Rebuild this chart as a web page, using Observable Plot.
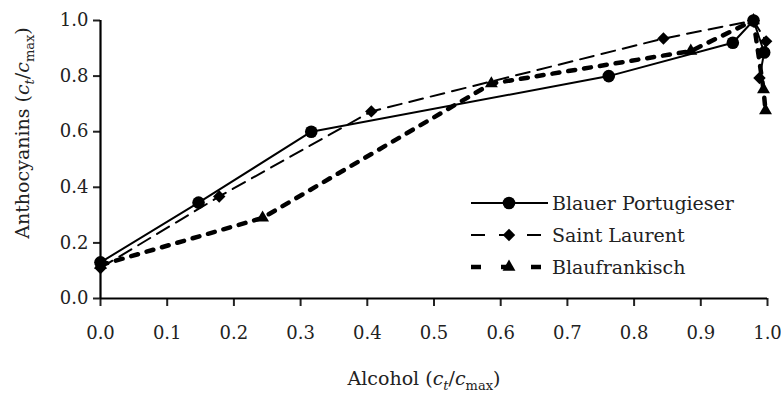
<!DOCTYPE html>
<html>
<head>
<meta charset="utf-8">
<script src="https://cdn.jsdelivr.net/npm/d3@7"></script>
<script src="https://cdn.jsdelivr.net/npm/@observablehq/plot@0.6"></script>
<style>
  html, body { margin: 0; padding: 0; background: white; }
  #chart svg { display: block; }
</style>
</head>
<body>
<div id="chart"></div>
<script>
// ---- data ----
const seriesNames = ["Blauer Portugieser", "Saint Laurent", "Blaufrankisch"];

const portugieserX = [0.000, 0.147, 0.316, 0.762, 0.948, 0.979, 0.995];
const portugieserY = [0.130, 0.345, 0.600, 0.800, 0.920, 1.000, 0.885];

const laurentX = [0.000, 0.178, 0.406, 0.844, 0.979, 0.998, 0.988];
const laurentY = [0.110, 0.367, 0.673, 0.935, 1.000, 0.925, 0.793];

const blaufrankischX = [0.000, 0.243, 0.586, 0.885, 0.979, 0.994, 0.997];
const blaufrankischY = [0.120, 0.290, 0.773, 0.890, 1.000, 0.752, 0.676];

const xTicks = [0, 0.1, 0.2, 0.3, 0.4, 0.5, 0.6, 0.7, 0.8, 0.9, 1.0];
const yTicks = [0, 0.2, 0.4, 0.6, 0.8, 1.0];

// ---- build tables ----
const toRows = (xs, ys, name) => xs.map((x, i) => ({x, y: ys[i], series: name}));
const port = toRows(portugieserX, portugieserY, seriesNames[0]);
const laur = toRows(laurentX, laurentY, seriesNames[1]);
const blau = toRows(blaufrankischX, blaufrankischY, seriesNames[2]);

const styles = [
  {name: seriesNames[0], dash: null, legendDash: null, width: 2, symbol: "circle", r: 6.3},
  {name: seriesNames[1], dash: "14,8", legendDash: "14,14", width: 2, symbol: "diamond2", r: 5.6},
  {name: seriesNames[2], dash: "7,9", legendDash: "10,20", width: 4.5, symbol: "triangle", r: 4.8}
];

const FONT = "'DejaVu Serif', 'Liberation Serif', serif";
const fmt = d3.format(".1f");

const chart = Plot.plot({
  width: 781,
  height: 394,
  marginLeft: 100,
  marginRight: 14,
  marginTop: 20,
  marginBottom: 96,
  style: {fontFamily: FONT, fontSize: "18px", color: "#222", background: "white", overflow: "visible"},
  x: {domain: [0, 1], label: null},
  y: {domain: [0, 1], label: null},
  marks: [
    Plot.axisX({ticks: xTicks, tickFormat: fmt, tickSize: 8, tickPadding: 20, strokeWidth: 2, label: null, fontSize: 18}),
    Plot.axisY({ticks: yTicks, tickFormat: fmt, tickSize: 7, tickPadding: 5, strokeWidth: 2, label: null, fontSize: 18}),
    Plot.ruleX([0], {stroke: "black", strokeWidth: 2.2}),
    Plot.ruleY([0], {stroke: "black", strokeWidth: 2.2}),
    Plot.line(port, {x: "x", y: "y", stroke: "black", strokeWidth: styles[0].width}),
    Plot.line(laur, {x: "x", y: "y", stroke: "black", strokeWidth: styles[1].width, strokeDasharray: styles[1].dash}),
    Plot.line(blau, {x: "x", y: "y", stroke: "black", strokeWidth: styles[2].width, strokeDasharray: styles[2].dash}),
    Plot.dot(port, {x: "x", y: "y", symbol: styles[0].symbol, r: styles[0].r, fill: "black"}),
    Plot.dot(laur, {x: "x", y: "y", symbol: styles[1].symbol, r: styles[1].r, fill: "black"}),
    Plot.dot(blau, {x: "x", y: "y", symbol: styles[2].symbol, r: styles[2].r, fill: "black"})
  ]
});

document.getElementById("chart").appendChild(chart);

// ---- axis labels with italic/subscript parts ----
const svg = d3.select(chart);

function addLabel(sel, prefix) {
  sel.append("tspan").text(prefix + " (");
  sel.append("tspan").attr("font-style", "italic").text("c");
  sel.append("tspan").attr("font-style", "italic").attr("font-size", "13px").attr("dy", 5).text("t");
  sel.append("tspan").attr("dy", -5).text("/");
  sel.append("tspan").attr("font-style", "italic").text("c");
  sel.append("tspan").attr("font-size", "13px").attr("dy", 5).text("max");
  sel.append("tspan").attr("dy", -5).text(")");
}

const xl = svg.append("text")
  .attr("x", 424).attr("y", 385)
  .attr("text-anchor", "middle")
  .style("font-family", FONT).style("font-size", "19px").attr("fill", "#222");
addLabel(xl, "Alcohol");

const yl = svg.append("text")
  .attr("transform", "translate(29,133) rotate(-90)")
  .attr("text-anchor", "middle")
  .style("font-family", FONT).style("font-size", "19px").attr("fill", "#222");
addLabel(yl, "Anthocyanins");

// ---- legend ----
const symbolMap = {circle: d3.symbolCircle, diamond2: d3.symbolDiamond2, triangle: d3.symbolTriangle};
const leg = svg.append("g").attr("transform", "translate(471,203)");
styles.forEach((s, i) => {
  const g = leg.append("g").attr("transform", `translate(0,${i * 32})`);
  g.append("line").attr("x1", 0).attr("x2", 77).attr("y1", 0).attr("y2", 0)
    .attr("stroke", "black").attr("stroke-width", s.width)
    .attr("stroke-dasharray", s.legendDash);
  g.append("path")
    .attr("d", d3.symbol(symbolMap[s.symbol], Math.PI * s.r * s.r)())
    .attr("transform", "translate(38,0)").attr("fill", "black");
  g.append("text").attr("x", 81).attr("y", 0).attr("dy", "0.35em")
    .attr("text-anchor", "start")
    .style("font-family", FONT).style("font-size", "19px").attr("fill", "#222")
    .text(s.name);
});
</script>
</body>
</html>
